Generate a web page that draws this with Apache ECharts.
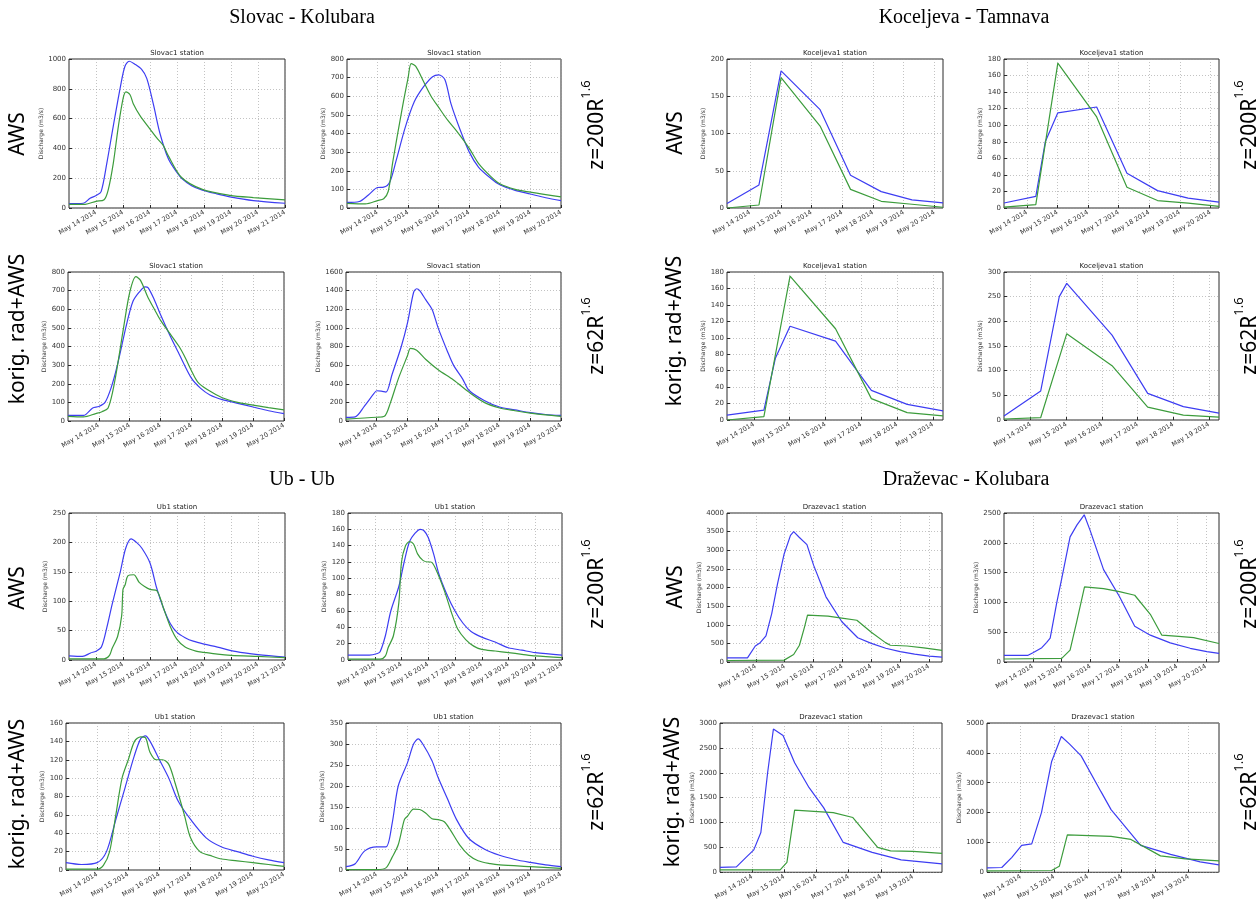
<!DOCTYPE html>
<html>
<head>
<meta charset="utf-8">
<script src="https://cdn.jsdelivr.net/npm/echarts@6.0.0/dist/echarts.min.js"></script>
<style>
  html, body { margin: 0; padding: 0; background: #fff; }
  #main { width: 1256px; height: 902px; }
</style>
</head>
<body>
<div id="main"></div>
<script>
// x values are days of May 2014 (13.5 = May 13, 12:00), y values are discharge in m3/s

// Slovac - Kolubara
const slovacAwsLBlue = [[13,30],[13.53,32],[13.78,65],[14.02,85],[14.19,110],[14.4,300],[14.64,550],[14.91,820],[15.07,950],[15.23,985],[15.44,965],[15.69,930],[15.88,870],[16.12,700],[16.37,500],[16.68,330],[16.99,240],[17.17,200],[17.54,150],[17.94,120],[18.47,95],[18.96,75],[19.83,50],[21,32]];
const slovacAwsLGreen = [[13,25],[13.6,25],[14.0,45],[14.3,55],[14.45,120],[14.64,300],[14.83,550],[15.01,740],[15.11,780],[15.26,760],[15.38,700],[15.63,620],[16.0,530],[16.25,470],[16.49,420],[16.68,350],[17.17,205],[17.94,125],[18.96,85],[19.83,70],[21,55]];
const slovacAwsRBlue = [[13,30],[13.4,35],[13.7,70],[14.0,110],[14.2,112],[14.4,140],[14.6,250],[14.9,430],[15.2,570],[15.5,650],[15.8,705],[16.0,715],[16.2,690],[16.4,560],[16.7,420],[17.0,300],[17.3,220],[17.7,160],[18.0,125],[18.5,95],[19.0,75],[19.5,55],[20,40]];
const slovacAwsRGreen = [[13,25],[13.6,22],[14.0,40],[14.2,50],[14.35,90],[14.5,250],[14.8,530],[15.0,700],[15.1,775],[15.25,760],[15.5,680],[15.75,600],[16.0,540],[16.3,470],[16.6,410],[17.0,320],[17.3,240],[17.7,170],[18.0,130],[18.5,100],[19.0,85],[19.5,72],[20,60]];
const slovacKorLBlue = [[13,30],[13.5,30],[13.8,70],[14.0,78],[14.2,100],[14.4,180],[14.6,300],[14.9,520],[15.1,640],[15.3,690],[15.5,720],[15.6,715],[15.8,650],[16.0,570],[16.3,460],[16.6,360],[17.0,230],[17.3,175],[17.6,140],[18.0,115],[18.5,95],[19.0,75],[19.5,55],[20,40]];
const slovacKorLGreen = [[13,25],[13.5,22],[13.9,40],[14.1,50],[14.3,70],[14.5,200],[14.8,500],[15.0,690],[15.2,775],[15.35,755],[15.6,660],[15.8,600],[16.0,540],[16.3,470],[16.6,400],[16.8,340],[17.0,270],[17.2,210],[17.5,170],[18.0,125],[18.5,100],[19.0,85],[19.5,72],[20,60]];
const slovacKorRBlue = [[13,40],[13.3,45],[13.6,160],[13.9,290],[14.0,325],[14.15,320],[14.3,310],[14.5,500],[14.8,800],[15.0,1050],[15.2,1380],[15.3,1420],[15.4,1400],[15.6,1300],[15.8,1200],[16.0,1000],[16.3,750],[16.5,600],[16.8,450],[17.0,330],[17.5,220],[18.0,150],[18.5,120],[19.0,90],[19.5,70],[20,60]];
const slovacKorRGreen = [[13,20],[14.0,40],[14.25,50],[14.45,200],[14.7,450],[15.0,700],[15.1,780],[15.3,760],[15.6,660],[16.0,550],[16.5,440],[17.0,310],[17.5,200],[18.0,140],[18.5,110],[19.0,85],[19.5,65],[20,50]];

// Koceljeva - Tamnava
const kocAwsLBlue = [[13.25,6],[14.29,31],[15.01,184],[16.28,132],[17.27,44],[18.27,22],[19.27,11],[20.28,7]];
const kocAwsLGreen = [[13.25,0],[14.29,4],[15.01,175],[16.28,110],[17.27,25],[18.27,9],[19.27,5],[20.28,1]];
const kocAwsRBlue = [[13.25,6],[14.29,14],[14.6,80],[15.01,115],[16.28,122],[17.27,42],[18.27,21],[19.27,12],[20.28,7]];
const kocAwsRGreen = [[13.25,1],[14.29,4],[15.01,175],[16.28,110],[17.27,25],[18.27,9],[19.27,6],[20.28,2]];
const kocKorLBlue = [[13.25,6],[14.28,12],[14.6,75],[15.01,114],[16.28,96],[17.28,36],[18.28,19],[19.28,11]];
const kocKorLGreen = [[13.25,0],[14.28,4],[15.01,175],[16.28,111],[17.28,26],[18.28,9],[19.28,5]];
const kocKorRBlue = [[13.25,8],[14.28,59],[14.8,250],[15.01,277],[16.28,172],[17.28,54],[18.28,27],[19.28,14]];
const kocKorRGreen = [[13.25,2],[14.28,5],[15.01,175],[16.28,110],[17.28,26],[18.28,10],[19.28,6]];

// Ub - Ub
const ubAwsLBlue = [[13,7],[13.5,6],[13.8,12],[14.0,15],[14.2,22],[14.4,55],[14.6,95],[14.9,150],[15.1,190],[15.3,206],[15.5,200],[15.7,190],[16.0,165],[16.25,122],[16.5,88],[16.75,62],[17.0,47],[17.3,38],[17.6,32],[18.0,27],[18.5,22],[19.0,16],[19.5,12],[20.0,9],[21,5]];
const ubAwsLGreen = [[13,2],[14.3,2],[14.5,8],[14.6,20],[14.8,40],[14.95,75],[15.0,120],[15.08,128],[15.18,143],[15.4,145],[15.6,132],[15.8,125],[16.0,120],[16.25,118],[16.5,88],[16.75,57],[17.0,35],[17.3,22],[17.7,15],[18.0,13],[18.5,10],[19.0,8],[20.0,6],[21,4]];
const ubAwsRBlue = [[13,6],[13.8,6],[14.1,8],[14.2,10],[14.4,30],[14.6,60],[14.9,90],[15.1,120],[15.3,145],[15.5,155],[15.7,160],[15.85,158],[16.0,150],[16.2,130],[16.4,105],[16.7,80],[17.0,60],[17.3,45],[17.6,35],[18.0,28],[18.5,22],[19.0,15],[19.5,12],[20.0,9],[21,6]];
const ubAwsRGreen = [[13,1],[14.2,1],[14.4,5],[14.5,15],[14.7,30],[14.9,70],[15.0,120],[15.15,140],[15.3,145],[15.45,142],[15.6,130],[15.8,122],[16.0,120],[16.1,120],[16.3,110],[16.6,85],[16.9,55],[17.1,38],[17.4,25],[17.7,17],[18.0,13],[18.5,11],[19.0,9],[19.5,7],[20.0,5],[21,3]];
const ubKorLBlue = [[13,8],[13.5,6],[14.0,8],[14.3,20],[14.6,55],[14.9,90],[15.2,125],[15.4,143],[15.55,146],[15.7,140],[16.0,120],[16.3,100],[16.6,75],[17.0,55],[17.5,35],[18.0,25],[18.5,20],[19.0,15],[19.5,11],[20,8]];
const ubKorLGreen = [[13,1],[14.0,1],[14.2,5],[14.4,20],[14.6,60],[14.8,100],[15.0,120],[15.2,140],[15.4,145],[15.55,144],[15.7,128],[15.9,120],[16.1,120],[16.3,115],[16.5,95],[16.8,60],[17.0,35],[17.3,20],[17.7,15],[18.0,12],[18.5,10],[19.0,8],[19.5,6],[20,4]];
const ubKorRBlue = [[13,8],[13.3,15],[13.6,45],[14.0,55],[14.3,55],[14.5,110],[14.7,200],[15.0,255],[15.2,300],[15.35,312],[15.5,300],[15.8,260],[16.0,220],[16.3,170],[16.6,120],[17.0,75],[17.5,50],[18.0,35],[18.5,25],[19.0,18],[19.5,12],[20,8]];
const ubKorRGreen = [[13,1],[14.0,1],[14.3,5],[14.5,30],[14.7,60],[14.9,120],[15.0,128],[15.2,145],[15.4,144],[15.6,135],[15.8,122],[16.0,120],[16.2,115],[16.4,95],[16.7,60],[17.0,35],[17.3,22],[17.7,15],[18.0,12],[19.0,8],[20,4]];

// Draževac - Kolubara
const drazAwsLBlue = [[13,110],[13.71,110],[13.98,430],[14.15,520],[14.35,700],[14.55,1300],[14.75,2100],[14.98,2900],[15.2,3400],[15.31,3500],[15.5,3350],[15.77,3150],[16.0,2600],[16.43,1750],[16.98,1080],[17.53,650],[18.0,500],[18.5,370],[19.0,280],[19.5,210],[20.0,160],[20.45,130]];
const drazAwsLGreen = [[13,40],[14.98,50],[15.31,200],[15.51,450],[15.69,950],[15.79,1260],[16.5,1230],[16.98,1180],[17.5,1120],[18.0,800],[18.49,520],[18.66,450],[19.24,430],[19.82,380],[20.45,310]];
const drazAwsRBlue = [[13,110],[13.82,110],[14.02,160],[14.31,240],[14.48,330],[14.6,400],[14.83,1000],[15.0,1400],[15.29,2100],[15.53,2300],[15.78,2470],[15.99,2200],[16.45,1550],[17.0,1100],[17.53,600],[18.07,450],[18.76,320],[19.45,230],[20.03,175],[20.45,145]];
const drazAwsRGreen = [[13,50],[15.0,60],[15.29,200],[15.53,700],[15.79,1260],[16.45,1230],[17.0,1180],[17.53,1120],[18.07,800],[18.47,450],[19.05,430],[19.57,410],[20.45,310]];
const drazKorLBlue = [[13,100],[13.51,110],[13.81,300],[14.05,450],[14.27,800],[14.48,2000],[14.66,2880],[14.96,2750],[15.32,2200],[15.77,1700],[16.22,1300],[16.83,600],[17.73,400],[18.63,250],[19.9,170]];
const drazKorLGreen = [[13,50],[14.87,50],[15.08,200],[15.32,1250],[16.52,1200],[17.13,1100],[17.9,500],[18.3,430],[19.0,420],[19.9,380]];
const drazKorRBlue = [[13,150],[13.44,160],[13.74,500],[14.03,900],[14.33,950],[14.62,2000],[14.92,3700],[15.21,4550],[15.45,4300],[15.8,3900],[16.39,2700],[16.69,2100],[17.57,900],[18.46,600],[19.34,350],[19.9,250]];
const drazKorRGreen = [[13,50],[14.92,60],[15.15,200],[15.39,1250],[16.69,1200],[17.28,1100],[18.16,550],[18.9,450],[19.9,380]];

// axis ranges: [xMin, xMax, yMax, yStep]
const slovacAwsLAxis = [13, 21, 1000, 200];
const slovacAwsRAxis = [13, 20, 800, 100];
const slovacKorLAxis = [13, 20, 800, 100];
const slovacKorRAxis = [13, 20, 1600, 200];
const kocAwsLAxis = [13.25, 20.28, 200, 50];
const kocAwsRAxis = [13.25, 20.28, 180, 20];
const kocKorLAxis = [13.25, 19.28, 180, 20];
const kocKorRAxis = [13.25, 19.28, 300, 50];
const ubAwsLAxis = [13, 21, 250, 50];
const ubAwsRAxis = [13, 21, 180, 20];
const ubKorLAxis = [13, 20, 160, 20];
const ubKorRAxis = [13, 20, 350, 50];
const drazAwsLAxis = [13, 20.45, 4000, 500];
const drazAwsRAxis = [13, 20.45, 2500, 500];
const drazKorLAxis = [13, 19.9, 3000, 500];
const drazKorRAxis = [13, 19.9, 5000, 1000];

const panels = [
  { title: 'Slovac1 station', axis: slovacAwsLAxis, blue: slovacAwsLBlue, green: slovacAwsLGreen, smooth: true },
  { title: 'Slovac1 station', axis: slovacAwsRAxis, blue: slovacAwsRBlue, green: slovacAwsRGreen, smooth: true },
  { title: 'Slovac1 station', axis: slovacKorLAxis, blue: slovacKorLBlue, green: slovacKorLGreen, smooth: true },
  { title: 'Slovac1 station', axis: slovacKorRAxis, blue: slovacKorRBlue, green: slovacKorRGreen, smooth: true },
  { title: 'Koceljeva1 station', axis: kocAwsLAxis, blue: kocAwsLBlue, green: kocAwsLGreen, smooth: false },
  { title: 'Koceljeva1 station', axis: kocAwsRAxis, blue: kocAwsRBlue, green: kocAwsRGreen, smooth: false },
  { title: 'Koceljeva1 station', axis: kocKorLAxis, blue: kocKorLBlue, green: kocKorLGreen, smooth: false },
  { title: 'Koceljeva1 station', axis: kocKorRAxis, blue: kocKorRBlue, green: kocKorRGreen, smooth: false },
  { title: 'Ub1 station', axis: ubAwsLAxis, blue: ubAwsLBlue, green: ubAwsLGreen, smooth: true },
  { title: 'Ub1 station', axis: ubAwsRAxis, blue: ubAwsRBlue, green: ubAwsRGreen, smooth: true },
  { title: 'Ub1 station', axis: ubKorLAxis, blue: ubKorLBlue, green: ubKorLGreen, smooth: true },
  { title: 'Ub1 station', axis: ubKorRAxis, blue: ubKorRBlue, green: ubKorRGreen, smooth: true },
  { title: 'Drazevac1 station', axis: drazAwsLAxis, blue: drazAwsLBlue, green: drazAwsLGreen, smooth: false },
  { title: 'Drazevac1 station', axis: drazAwsRAxis, blue: drazAwsRBlue, green: drazAwsRGreen, smooth: false },
  { title: 'Drazevac1 station', axis: drazKorLAxis, blue: drazKorLBlue, green: drazKorLGreen, smooth: false },
  { title: 'Drazevac1 station', axis: drazKorRAxis, blue: drazKorRBlue, green: drazKorRGreen, smooth: false }
];

// plot boxes [left, top, width, height], same order as panels
const boxes = [
  [69, 59, 216, 149], [347, 59, 214, 149], [68, 272, 216, 149], [346, 272, 215, 149],
  [727, 59, 216, 149], [1004, 59, 215, 149], [727, 272, 216, 148], [1004, 272, 215, 148],
  [69, 513, 216, 147], [348, 513, 214, 147], [66, 723, 218, 147], [346, 723, 215, 147],
  [727, 513, 215, 149], [1004, 513, 215, 149], [720, 723, 222, 150], [987, 723, 232, 150]
];

const sectionTitles = ['Slovac - Kolubara', 'Koceljeva - Tamnava', 'Ub - Ub', 'Draževac - Kolubara'];
const sectionPos = [[302, 18], [964, 18], [302, 480], [966, 480]];
const rowNames = ['AWS', 'korig. rad+AWS'];
const rowPos = [[18, 134], [18, 329], [676, 133], [675, 331], [18, 588], [18, 794], [676, 587], [673, 792]];
const zNames = ['z=200R', 'z=62R'];
const zPos = [[594, 125], [594, 336], [1247, 125], [1247, 336], [594, 584], [594, 792], [1247, 584], [1247, 792]];

const BLUE = '#3d3df2';
const GREEN = '#3c9c3c';
const INK = '#2a2a2a';

const grid = [], xAxis = [], yAxis = [], series = [], graphic = [];

panels.forEach((p, i) => {
  const b = boxes[i];
  const [xMin, xMax, yMax, yStep] = p.axis;
  const days = [];
  for (let d = Math.floor(xMin) + 1; d <= xMax; d++) days.push(d);

  grid.push({ left: b[0], top: b[1], width: b[2], height: b[3], show: true, borderColor: INK, borderWidth: 1, backgroundColor: 'transparent' });

  xAxis.push({
    type: 'value', gridIndex: i, min: xMin, max: xMax,
    axisLine: { show: false },
    axisTick: { show: true, inside: true, length: 3, customValues: days, lineStyle: { color: INK } },
    axisLabel: { customValues: days, rotate: 30, margin: 4, fontSize: 6.5, color: '#333', fontFamily: 'DejaVu Sans', formatter: v => 'May ' + v + ' 2014' },
    splitLine: { show: true, lineStyle: { color: '#9a9a9a', width: 0.6, type: [1, 2] } }
  });

  yAxis.push({
    type: 'value', gridIndex: i, min: 0, max: yMax, interval: yStep,
    name: 'Discharge (m3/s)', nameLocation: 'middle', nameGap: 6 + 4 * String(yMax).length,
    nameTextStyle: { fontSize: 6, color: '#333', fontFamily: 'DejaVu Sans' },
    axisLine: { show: false },
    axisTick: { show: true, inside: true, length: 3, lineStyle: { color: INK } },
    axisLabel: { fontSize: 7, margin: 3, color: '#333', fontFamily: 'DejaVu Sans', formatter: v => String(v) },
    splitLine: { show: true, lineStyle: { color: '#9a9a9a', width: 0.6, type: [1, 2] } }
  });

  [[p.blue, BLUE], [p.green, GREEN]].forEach(([data, color]) => {
    series.push({
      type: 'line', xAxisIndex: i, yAxisIndex: i, data: data,
      showSymbol: false, smooth: p.smooth ? 0.3 : false,
      lineStyle: { color: color, width: 1.2 }, animation: false
    });
  });

  graphic.push({
    type: 'text', x: b[0] + b[2] / 2, y: b[1] - 2,
    style: { text: p.title, align: 'center', verticalAlign: 'bottom', fontSize: 7, fontFamily: 'DejaVu Sans', fill: '#222' }
  });
});

sectionTitles.forEach((t, i) => {
  graphic.push({
    type: 'text', x: sectionPos[i][0], y: sectionPos[i][1],
    style: { text: t, align: 'center', verticalAlign: 'middle', fontSize: 20, fontFamily: 'Liberation Serif', fill: '#000' }
  });
});

rowPos.forEach((pos, i) => {
  graphic.push({
    type: 'text', x: pos[0], y: pos[1], rotation: Math.PI / 2,
    style: { text: rowNames[i % 2], align: 'center', verticalAlign: 'middle', fontSize: 21, fontFamily: 'Noto Sans', fill: '#000' }
  });
});

zPos.forEach((pos, i) => {
  graphic.push({
    type: 'text', x: pos[0], y: pos[1], rotation: Math.PI / 2,
    style: {
      text: '{a|' + zNames[i % 2] + '}{b|1.6}', align: 'center', verticalAlign: 'middle',
      rich: {
        a: { fontSize: 21, fontFamily: 'Noto Sans', fill: '#000', lineHeight: 28, verticalAlign: 'bottom' },
        b: { fontSize: 13, fontFamily: 'Noto Sans', fill: '#000', verticalAlign: 'top' }
      }
    }
  });
});

const chart = echarts.init(document.getElementById('main'));
chart.setOption({
  backgroundColor: '#fff',
  animation: false,
  grid: grid,
  xAxis: xAxis,
  yAxis: yAxis,
  series: series,
  graphic: graphic
});
</script>
</body>
</html>
